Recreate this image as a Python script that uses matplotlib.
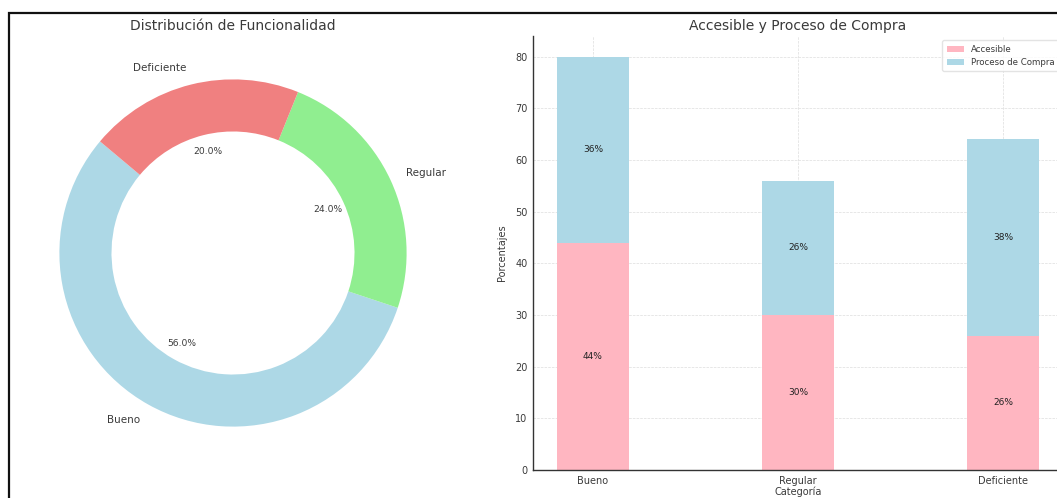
import matplotlib.pyplot as plt
from matplotlib.patches import Rectangle

# funcionalidad
func_labels = ['Bueno', 'Regular', 'Deficiente']
func_values = [56, 24, 20]
func_colors = ['lightblue', 'lightgreen', 'lightcoral']

# accesible / proceso de compra
categorias = ['Bueno', 'Regular', 'Deficiente']
accesible = [44, 30, 26]
proceso = [36, 26, 38]

txt = '#3a3a3a'
W, H = 1057, 498
fig = plt.figure(figsize=(W / 100, H / 100), dpi=100)

# donut
ax1 = fig.add_axes([15.5 / W, 28 / H, 435 / W, 434 / H])
wedges, texts, autotexts = ax1.pie(func_values, labels=func_labels, colors=func_colors,
                                   autopct='%1.1f%%', startangle=140,
                                   wedgeprops=dict(width=0.3),
                                   textprops=dict(color=txt))
for t in texts:
    t.set_fontsize(7.5)
for t in autotexts:
    t.set_fontsize(6.6)
ax1.set_title('Distribución de Funcionalidad', fontsize=10, color=txt, pad=4)

# barras apiladas
ax2 = fig.add_axes([533 / W, 28 / H, 530 / W, 434 / H])
x = range(len(categorias))
b1 = ax2.bar(x, accesible, width=0.35, color='lightpink', label='Accesible')
b2 = ax2.bar(x, proceso, width=0.35, bottom=accesible, color='lightblue', label='Proceso de Compra')
for i in x:
    ax2.text(i, accesible[i] / 2, f'{accesible[i]}%', ha='center', va='center', fontsize=6.5, color='#222222')
    ax2.text(i, accesible[i] + proceso[i] / 2, f'{proceso[i]}%', ha='center', va='center', fontsize=6.5, color='#222222')
ax2.set_xticks(list(x))
ax2.set_xticklabels(categorias)
ax2.set_title('Accesible y Proceso de Compra', fontsize=10, color=txt, pad=4)
ax2.set_ylabel('Porcentajes', fontsize=7, color=txt, labelpad=6)
ax2.set_xlabel('Categoría', fontsize=7, color=txt, labelpad=1)
ax2.tick_params(length=0, labelsize=7, colors=txt, pad=4)
ax2.grid(True, linestyle='--', color='#dddddd', linewidth=0.5)
ax2.set_axisbelow(True)
for s in ['top', 'right']:
    ax2.spines[s].set_visible(False)
for s in ['left', 'bottom']:
    ax2.spines[s].set_color('#333333')
    ax2.spines[s].set_linewidth(1)
leg = ax2.legend(loc='upper right', fontsize=6.2, frameon=True, borderpad=0.5)
leg.get_frame().set_edgecolor('#dddddd')
for t in leg.get_texts():
    t.set_color(txt)

# marco
fig.add_artist(Rectangle((9 / W, -0.1), 1.2, 0.1 + (H - 13) / H,
                         transform=fig.transFigure, fill=False, edgecolor='#111111', linewidth=1.6))

fig.savefig('out.png', dpi=100)
